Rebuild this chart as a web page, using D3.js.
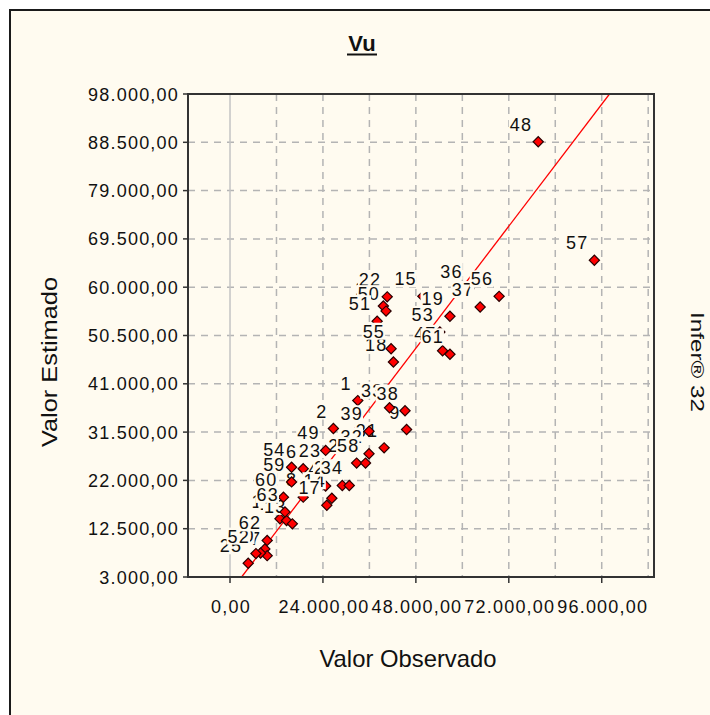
<!DOCTYPE html>
<html>
<head>
<meta charset="utf-8">
<script src="https://cdnjs.cloudflare.com/ajax/libs/d3/7.8.5/d3.min.js"></script>
<style>
body{margin:0;background:#ffffff;}
text{font-family:"Liberation Sans",Arial,sans-serif;fill:#111;}
</style>
</head>
<body>
<div class="dataContainer"></div>
<script>
// point numbers, observed value (x) and estimated value (y), drawn in this order
var labels    = [1, 2, 4, 5, 6, 7, 8, 9, 10, 11, 12, 13, 14, 15, 17, 18, 19, 20, 22, 23, 25, 27, 28, 31, 32, 33, 34, 36, 37, 38, 39, 47, 48, 49, 50, 51, 52, 53, 54, 55, 56, 57, 58, 59, 60, 61, 62, 63];
var observed  = [33000, 26700, 24700, 9000, 18900, 9600, 18900, 45600, 12900, 14600, 39600, 16100, 26300, 49800, 25000, 42200, 56800, 7900, 40600, 25100, 4700, 32700, 29000, 39800, 35900, 41200, 30800, 61650, 64600, 45200, 35900, 54900, 79600, 24700, 40300, 38000, 6700, 54200, 15900, 41600, 69500, 94100, 35000, 15900, 13800, 56800, 9600, 14200];
var estimated = [37700, 32200, 20900, 8500, 24300, 7200, 18700, 32000, 14450, 14100, 56300, 13450, 18500, 58200, 17100, 45300, 54300, 7700, 58100, 24500, 5700, 25400, 21000, 28400, 27250, 36300, 21000, 59700, 56100, 35700, 31650, 47500, 88600, 27900, 55300, 53300, 7600, 51200, 24600, 47900, 58200, 65300, 25400, 21700, 18700, 46800, 10200, 15800];

var xTicks = [0, 24000, 48000, 72000, 96000];
var xGrid  = [12000, 24000, 36000, 48000, 60000, 72000, 84000, 96000, 108000];
var yTicks = [3000, 12500, 22000, 31500, 41000, 50500, 60000, 69500, 79000, 88500, 98000];
var refLine = [3000, 98000];

var bg = "#fffbf0";
var fmt = d3.formatLocale({decimal: ",", thousands: ".", grouping: [3], currency: ["", ""]}).format(",.2f");

var svg = d3.select(".dataContainer").append("svg")
    .attr("width", 710)
    .attr("height", 715)
    .style("display", "block");

// frame
svg.append("rect")
    .attr("x", 10).attr("y", 10)
    .attr("width", 720).attr("height", 720)
    .attr("fill", bg)
    .attr("stroke", "#1a1a1a")
    .attr("stroke-width", 2);

var x = d3.scaleLinear().domain([-10850, 109500]).range([188, 654]);
var y = d3.scaleLinear().domain([3000, 98000]).range([577, 94]);

svg.append("clipPath").attr("id", "plot")
    .append("rect")
    .attr("x", 188).attr("y", 94)
    .attr("width", 466).attr("height", 483);

var plot = svg.append("g").attr("clip-path", "url(#plot)");

// grid
plot.selectAll("line.vg")
    .data(xGrid)
    .enter()
    .append("line")
    .attr("x1", function (d) { return x(d); })
    .attr("x2", function (d) { return x(d); })
    .attr("y1", 94).attr("y2", 577)
    .attr("stroke", "#b4b4b4")
    .attr("stroke-width", 1.5)
    .attr("stroke-dasharray", "7,6");

plot.selectAll("line.hg")
    .data(yTicks.slice(1, -1))
    .enter()
    .append("line")
    .attr("y1", function (d) { return y(d); })
    .attr("y2", function (d) { return y(d); })
    .attr("x1", 188).attr("x2", 654)
    .attr("stroke", "#b4b4b4")
    .attr("stroke-width", 1.5)
    .attr("stroke-dasharray", "7,6");

plot.append("line")
    .attr("x1", x(0)).attr("x2", x(0))
    .attr("y1", 94).attr("y2", 577)
    .attr("stroke", "#c4c4c4")
    .attr("stroke-width", 1.5);

// observed = estimated line
plot.append("line")
    .attr("x1", x(refLine[0])).attr("y1", y(refLine[0]))
    .attr("x2", x(refLine[1])).attr("y2", y(refLine[1]))
    .attr("stroke", "#ff0000")
    .attr("stroke-width", 1.3);

// points with their numbers (each label has an opaque box, drawn before its marker)
var diamond = d3.symbol().type(d3.symbolSquare).size(52);
labels.forEach(function (lab, i) {
    var px = x(observed[i]), py = y(estimated[i]);
    var g = plot.append("g");
    var box = g.append("rect").attr("fill", bg);
    var t = g.append("text")
        .attr("x", px - 6)
        .attr("y", py - 11)
        .attr("text-anchor", "end")
        .style("font-size", "18px")
        .style("letter-spacing", "1.2px")
        .text(lab);
    var bb = t.node().getBBox();
    box.attr("x", bb.x - 1).attr("y", py - 26)
        .attr("width", bb.width + 1).attr("height", 17);
    plot.append("path")
        .attr("d", diamond)
        .attr("transform", "translate(" + px + "," + py + ") rotate(45)")
        .attr("fill", "#ff0000")
        .attr("stroke", "#2a0000")
        .attr("stroke-width", 1.2);
});

// plot border
svg.append("rect")
    .attr("x", 188).attr("y", 94)
    .attr("width", 466).attr("height", 483)
    .attr("fill", "none")
    .attr("stroke", "#333")
    .attr("stroke-width", 2);

// y axis ticks and labels
svg.selectAll("line.yt")
    .data(yTicks)
    .enter()
    .append("line")
    .attr("x1", 183).attr("x2", 188)
    .attr("y1", function (d) { return y(d); })
    .attr("y2", function (d) { return y(d); })
    .attr("stroke", "#333")
    .attr("stroke-width", 1.5);

svg.selectAll("text.yl")
    .data(yTicks)
    .enter()
    .append("text")
    .attr("x", 179)
    .attr("y", function (d) { return y(d) + 6.5; })
    .attr("text-anchor", "end")
    .style("font-size", "18px")
    .style("letter-spacing", "1.2px")
    .text(function (d) { return fmt(d); });

// x axis ticks and labels
svg.selectAll("line.xt")
    .data(xTicks)
    .enter()
    .append("line")
    .attr("x1", function (d) { return x(d); })
    .attr("x2", function (d) { return x(d); })
    .attr("y1", 577).attr("y2", 583)
    .attr("stroke", "#333")
    .attr("stroke-width", 1.5);

svg.selectAll("text.xl")
    .data(xTicks)
    .enter()
    .append("text")
    .attr("x", function (d) { return x(d) + 1; })
    .attr("y", 613)
    .attr("text-anchor", "middle")
    .style("font-size", "18px")
    .style("letter-spacing", "1.2px")
    .text(function (d) { return fmt(d); });

// titles
svg.append("text")
    .attr("x", 362).attr("y", 51)
    .attr("text-anchor", "middle")
    .style("font-size", "22px")
    .style("font-weight", "bold")
    .text("Vu");
svg.append("line")
    .attr("x1", 347).attr("x2", 377)
    .attr("y1", 54.5).attr("y2", 54.5)
    .attr("stroke", "#111")
    .attr("stroke-width", 2);

svg.append("text")
    .attr("x", 408).attr("y", 667)
    .attr("text-anchor", "middle")
    .attr("textLength", 177)
    .attr("lengthAdjust", "spacingAndGlyphs")
    .style("font-size", "24px")
    .text("Valor Observado");

svg.append("text")
    .attr("transform", "translate(57,362) rotate(-90)")
    .attr("text-anchor", "middle")
    .attr("textLength", 170)
    .attr("lengthAdjust", "spacingAndGlyphs")
    .style("font-size", "22px")
    .text("Valor Estimado");

svg.append("text")
    .attr("transform", "translate(691,312) rotate(90)")
    .attr("textLength", 100)
    .attr("lengthAdjust", "spacingAndGlyphs")
    .style("font-size", "19px")
    .text("Infer® 32");
</script>
</body>
</html>
